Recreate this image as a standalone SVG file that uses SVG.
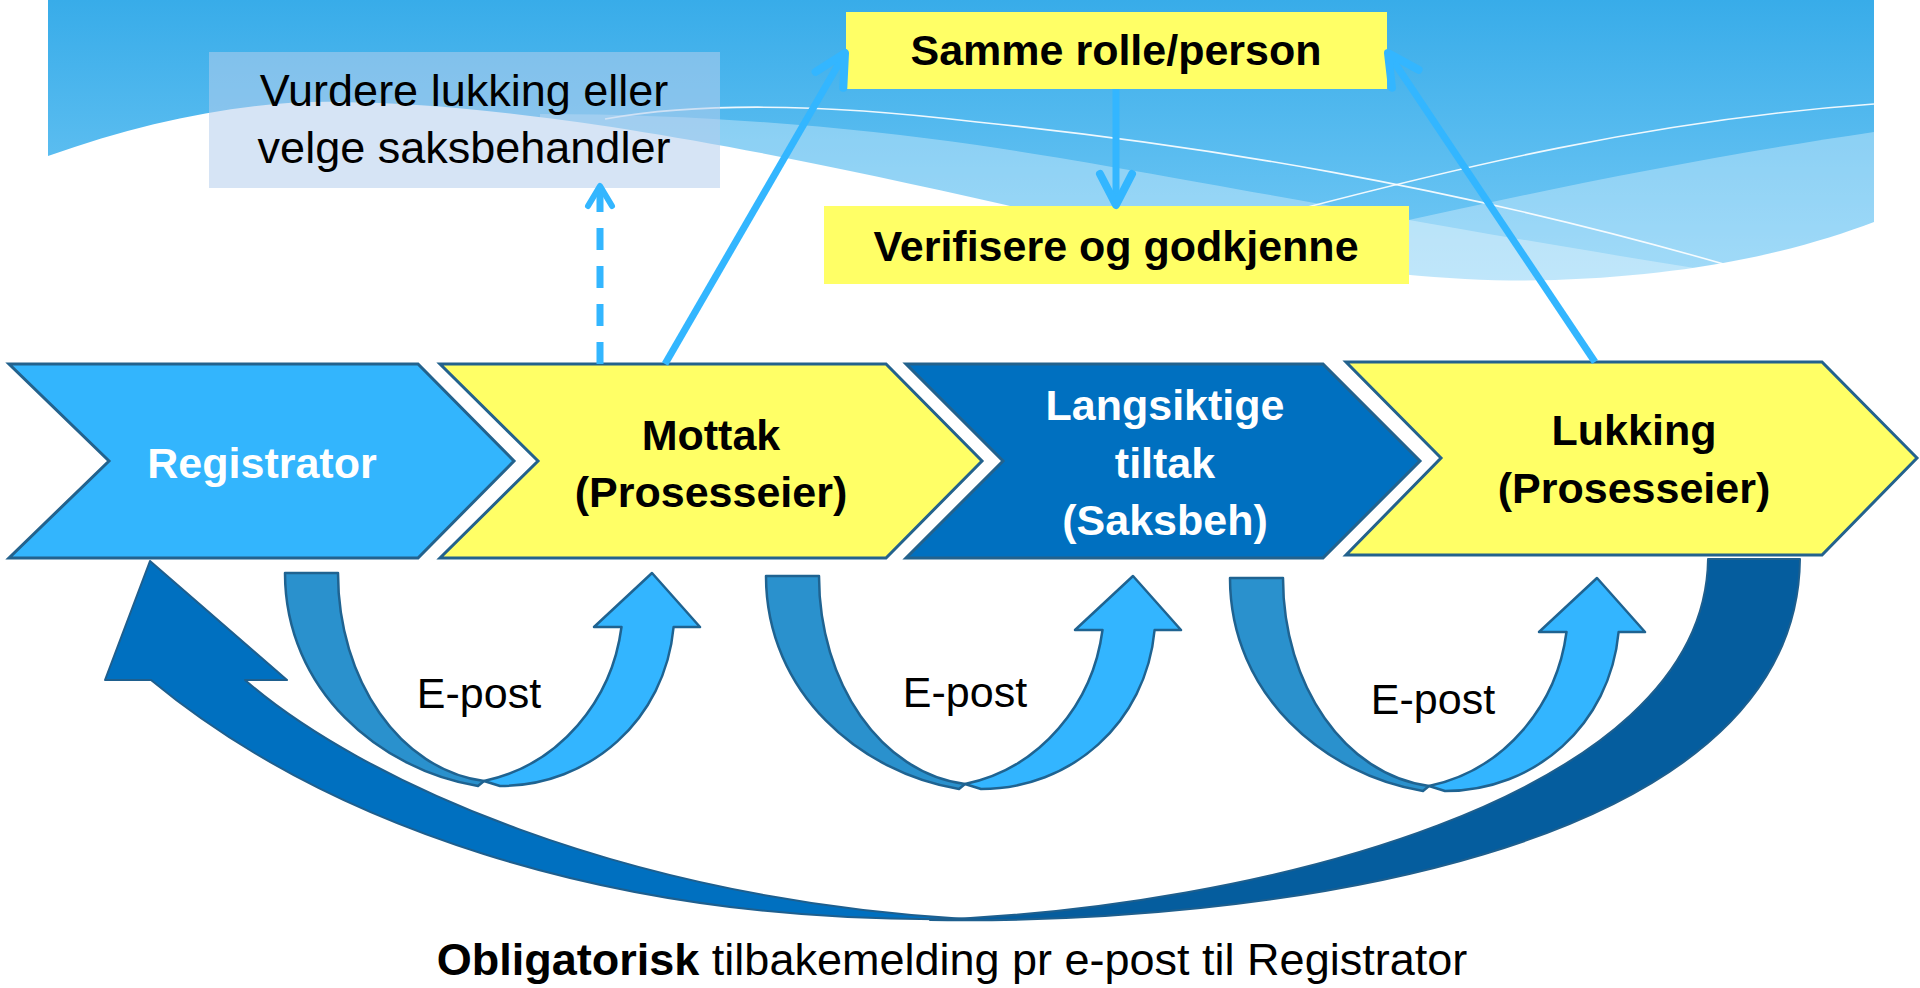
<svg xmlns="http://www.w3.org/2000/svg" xmlns:xlink="http://www.w3.org/1999/xlink" width="1920" height="988" viewBox="0 0 1920 988">
<style>
.t{font-family:'Liberation Sans',Arial,sans-serif}
.b{font-weight:bold;font-size:43px}
.r{font-weight:normal;font-size:45px}
.chev{stroke:#23628D;stroke-width:3;stroke-linejoin:miter}
.ybox{fill:#FFFF66}
.line{fill:none;stroke:#33B6FF;stroke-width:7}
.band{stroke:#1F6391;stroke-width:2.5;stroke-linejoin:round}
.big{stroke:#1E5F8E;stroke-width:2;stroke-linejoin:round}
.wl{fill:none;stroke:#FFFFFF;stroke-width:1.6;opacity:0.9}
</style>
<defs>
<linearGradient id="sky" x1="0" y1="0" x2="0" y2="290" gradientUnits="userSpaceOnUse">
<stop offset="0" stop-color="#38ACE9"/>
<stop offset="1" stop-color="#78CBF6"/>
</linearGradient>
<marker id="openHead" markerUnits="userSpaceOnUse" markerWidth="80" markerHeight="80" viewBox="-40 -40 80 80" refX="0" refY="0" orient="auto" overflow="visible">
<path d="M-31,-16 L0,0 L-31,16" fill="none" stroke="#33B6FF" stroke-width="8" stroke-linecap="round" stroke-linejoin="round"/>
</marker>
<marker id="openHeadSmall" markerUnits="userSpaceOnUse" markerWidth="60" markerHeight="60" viewBox="-30 -30 60 60" refX="0" refY="0" orient="auto" overflow="visible">
<path d="M-20,-12 L0,0 L-20,12" fill="none" stroke="#33B6FF" stroke-width="6" stroke-linecap="round" stroke-linejoin="round"/>
</marker>
<g id="uturn">
<path class="band" fill="#2A91CD" d="M285,573 L338,573 C338,680 400,770 484,781 L478,786 C380,770 285,690 285,573 Z"/>
<path class="band" fill="#33B5FF" d="M484,781 C560,765 612,700 621.5,627 L594,627 L652,573 L700,627 L673.6,627 C665,720 590,786 500,786 Z"/>
</g>
</defs>

<g id="background">
<path fill="url(#sky)" d="M48,0 H1874 V222 C1800,250 1700,275 1555,280 C1400,285 1200,250 1006,205 C700,135 500,104 340,102 C250,100 150,120 48,156 Z"/>
<path fill="#FFFFFF" opacity="0.32" d="M540,114 C700,114 850,127 977,145 C1150,170 1400,222 1720,272 L1720,300 L540,300 Z"/>
<path fill="#FFFFFF" opacity="0.32" d="M1250,256 C1450,210 1650,165 1874,132 L1874,300 L1250,300 Z"/>
<path fill="#FFFFFF" d="M0,0 H48 V300 H0 Z M1874,0 H1920 V300 H1874 Z"/>
<path class="wl" d="M605,119 C700,102 820,103 977,122 C1200,145 1450,185 1727,265"/>
<path class="wl" d="M1300,209 C1450,170 1650,120 1874,104"/>
</g>

<g id="vurdere">
<rect x="209" y="52" width="511" height="136" fill="#B4CEED" opacity="0.55"/>
<text class="t r" x="464" y="106" text-anchor="middle" fill="#000">Vurdere lukking eller</text>
<text class="t r" x="464" y="163" text-anchor="middle" fill="#000">velge saksbehandler</text>
</g>

<g id="samme">
<rect class="ybox" x="846" y="12" width="541" height="77"/>
<text class="t b" x="1116" y="65" text-anchor="middle" fill="#000">Samme rolle/person</text>
</g>

<g id="verifisere">
<rect class="ybox" x="824" y="206" width="585" height="78"/>
<text class="t b" x="1116" y="261" text-anchor="middle" fill="#000">Verifisere og godkjenne</text>
</g>

<g id="registrator">
<polygon class="chev" fill="#33B5FD" points="9,364 418,364 514,461 418,558 9,558 109,461"/>
<text class="t b" x="262" y="478" text-anchor="middle" fill="#FFFFFF">Registrator</text>
</g>

<g id="mottak">
<polygon class="chev" fill="#FFFF66" points="440,364 886,364 982,461 886,558 440,558 538,461"/>
<text class="t b" x="711" y="450" text-anchor="middle" fill="#000">Mottak</text>
<text class="t b" x="711" y="507" text-anchor="middle" fill="#000">(Prosesseier)</text>
</g>

<g id="langsiktige">
<polygon class="chev" fill="#0070C0" points="906,364 1323,364 1420,461 1323,558 906,558 1003,461"/>
<text class="t b" x="1165" y="420" text-anchor="middle" fill="#FFFFFF" font-size="42">Langsiktige</text>
<text class="t b" x="1165" y="478" text-anchor="middle" fill="#FFFFFF" font-size="42">tiltak</text>
<text class="t b" x="1165" y="535" text-anchor="middle" fill="#FFFFFF" font-size="42">(Saksbeh)</text>
</g>

<g id="lukking">
<polygon class="chev" fill="#FFFF66" points="1346,362 1822,362 1917,458 1822,555 1346,555 1441,458"/>
<text class="t b" x="1634" y="445" text-anchor="middle" fill="#000">Lukking</text>
<text class="t b" x="1634" y="503" text-anchor="middle" fill="#000">(Prosesseier)</text>
</g>

<g id="connectors">
<line x1="600" y1="364" x2="600" y2="186" class="line" stroke-width="6" stroke-dasharray="22 16" marker-end="url(#openHeadSmall)"/>
<line x1="665" y1="364" x2="845" y2="53" class="line" marker-end="url(#openHead)"/>
<line x1="1595" y1="362" x2="1388" y2="53" class="line" marker-end="url(#openHead)"/>
<line x1="1116" y1="89" x2="1116" y2="205" class="line" marker-end="url(#openHead)"/>

<g id="epost1">
<use xlink:href="#uturn" href="#uturn"/>
<text class="t" x="479" y="708" text-anchor="middle" font-size="43" fill="#000">E-post</text>
</g>
<g id="epost2">
<use xlink:href="#uturn" href="#uturn" transform="translate(481,3)"/>
<text class="t" x="965" y="707" text-anchor="middle" font-size="43" fill="#000">E-post</text>
</g>
<g id="epost3">
<use xlink:href="#uturn" href="#uturn" transform="translate(945,5)"/>
<text class="t" x="1433" y="714" text-anchor="middle" font-size="43" fill="#000">E-post</text>
</g>

<g id="feedback">
<path class="big" fill="#055D9E" d="M1708,559 L1800,559 C1797,860 1250,925 930,920 C1250,908 1705,800 1708,559 Z"/>
<path class="big" fill="#0070C0" d="M105,680 L150,561 L287,680 L245,680 C360,780 620,898 965,919 C600,925 320,820 151,680 Z"/>
<text class="t" x="952" y="975" text-anchor="middle" font-size="45" fill="#000"><tspan font-weight="bold">Obligatorisk</tspan> tilbakemelding pr e-post til Registrator</text>
</g>
</g>
</svg>
